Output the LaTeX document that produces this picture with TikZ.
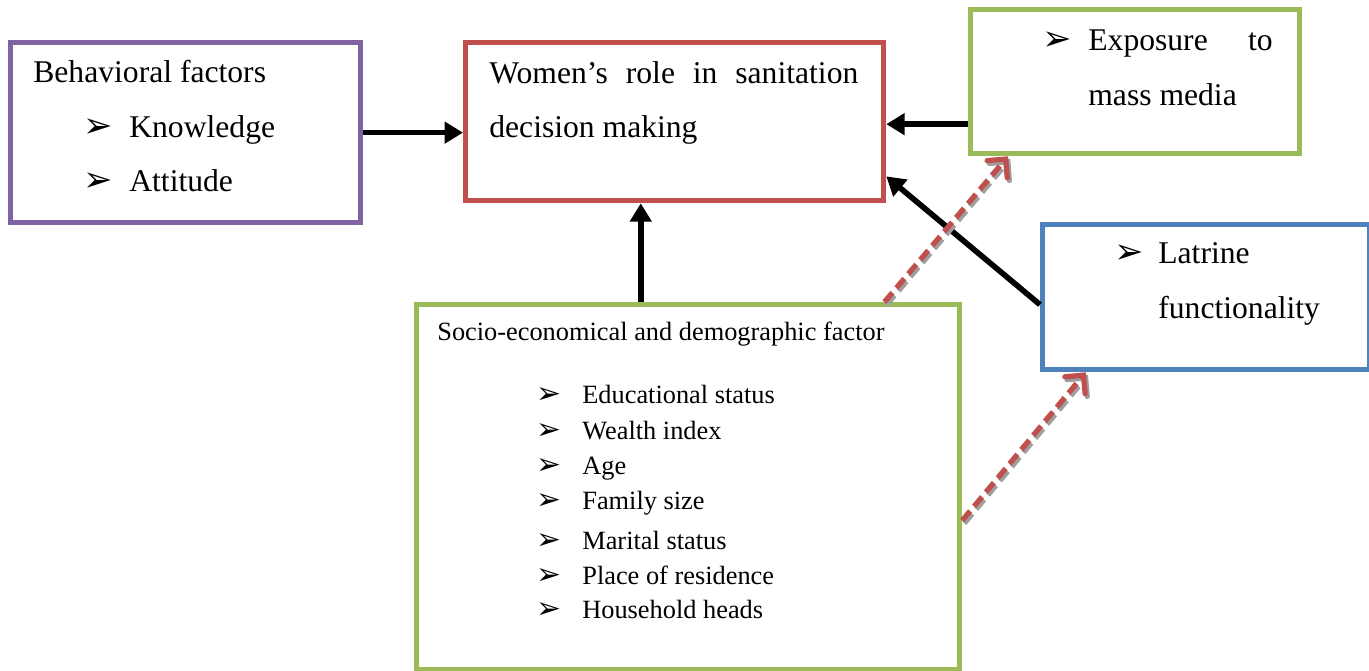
\documentclass[tikz,border=0pt]{standalone}
\usepackage{fontspec}
\setmainfont{Liberation Serif}
\newfontfamily\dingfont{DejaVu Sans}
\usetikzlibrary{arrows.meta,calc,positioning}
\definecolor{boxpurple}{HTML}{8064A2}
\definecolor{boxred}{HTML}{C0504D}
\definecolor{boxgreen}{HTML}{9BBB59}
\definecolor{boxblue}{HTML}{4F81BD}
\newcommand\PX{0.02cm}
\newcommand\Bul{{\dingfont\char"27A2}}
\tikzset{
  frame/.style={
    draw,
    line width=3pt,
    inner sep=0pt,
    anchor=north west
  },
  big/.style={
    font=\fontsize{18}{31}\selectfont,
    anchor=base west,
    inner sep=0pt
  },
  small/.style={
    font=\fontsize{15}{18}\selectfont,
    anchor=base west,
    inner sep=0pt
  },
  bigdot/.style={
    font=\fontsize{20}{20}\selectfont,
    anchor=base west,
    inner sep=0pt
  },
  smalldot/.style={
    font=\fontsize{17}{17}\selectfont,
    anchor=base west,
    inner sep=0pt
  },
  link/.style={
    line width=3.2pt,
    -{Triangle[length=10.5pt,width=12pt]}
  },
  hint/.style={
    line width=3pt,
    dash pattern=on 7pt off 3.5pt,
    -{Straight Barb[length=7.5pt,width=15pt,line cap=round]}
  },
}

\begin{document}
\begin{tikzpicture}[x=\PX,y=-\PX]
    \useasboundingbox (0,0) rectangle (1369,670);

    % boxes
    \node[frame, draw=boxpurple, minimum width=350*\PX, minimum height=180*\PX] (behav) at (8,40) {};
    \node[frame, draw=boxred, minimum width=418*\PX, minimum height=158*\PX] (role) at (463,40) {};
    \node[frame, draw=boxgreen, minimum width=329*\PX, minimum height=144*\PX] (media) at (968,7) {};
    \node[frame, draw=boxblue, minimum width=327*\PX, minimum height=145*\PX] (latrine) at (1040,222) {};
    \node[frame, draw=boxgreen, minimum width=543*\PX, minimum height=365*\PX] (socio) at (414,302) {};

    % texts
    \node[big] (behavT) at (33,82) {Behavioral factors};
    \node[bigdot] (behavB1) at (83,137) {\Bul};
    \node[big] (behavK) at (129,137) {Knowledge};
    \node[bigdot] (behavB2) at (83,191) {\Bul};
    \node[big] (behavA) at (129,191) {Attitude};

    \node[big, anchor=north west, text width=369*\PX, align=justify] (roleT) at (489,61)
        {Women's role in sanitation decision making};

    \node[bigdot] (mediaB) at (1042,50) {\Bul};
    \node[big] (mediaT1) at (1088,50) {Exposure};
    \node[big, anchor=base east] (mediaT2) at (1273,50) {to};
    \node[big] (mediaT3) at (1088,105) {mass media};

    \node[bigdot] (latB) at (1114,263) {\Bul};
    \node[big] (latT1) at (1158,263) {Latrine};
    \node[big] (latT2) at (1158,318) {functionality};

    \node[small] (socioT) at (437,340) {Socio-economical and demographic factor};
    \foreach \yy/\txt [count=\i] in {403/Educational status, 439/Wealth index, 474/Age,
        509/Family size, 549/Marital status, 584/Place of residence, 618/Household heads}{
      \node[smalldot] (socioB\i) at (536,\yy) {\Bul};
      \node[small] (socioI\i) at (582,\yy) {\txt};
    }

    % arrows
    \coordinate (r1) at ($(role.south west)!.42!(role.south east)$);
    \coordinate (r2) at ($(role.south east)!.165!(role.north east)$);
    \coordinate (m1) at ($(media.south west)!.215!(media.north west)$);
    \coordinate (l1) at ($(latrine.south west)!.45!(latrine.north west)$);
    \draw[link] (behav.east) -- (behav.east -| role.west);
    \draw[link] (m1) -- (m1 -| role.east);
    \draw[link] (r1 |- socio.north) -- (r1);
    \draw[link] (l1) -- (r2);

    % dashed hints with shadow
    \coordinate (s1) at ($(socio.north west)!.858!(socio.north east)$);
    \coordinate (s2) at ($(socio.north east)!.59!(socio.south east)$);
    \coordinate (m2) at ($(media.south west)!.12!(media.south east)$);
    \coordinate (l2) at ($(latrine.south west)!.138!(latrine.south east)$);
    \draw[hint, gray!75, transform canvas={xshift=1.2pt,yshift=-1.6pt}] (s1) -- (m2);
    \draw[hint, gray!75, transform canvas={xshift=1.2pt,yshift=-1.6pt}] (s2) -- (l2);
    \draw[hint, boxred] (s1) -- (m2);
    \draw[hint, boxred] (s2) -- (l2);
\end{tikzpicture}
\end{document}
